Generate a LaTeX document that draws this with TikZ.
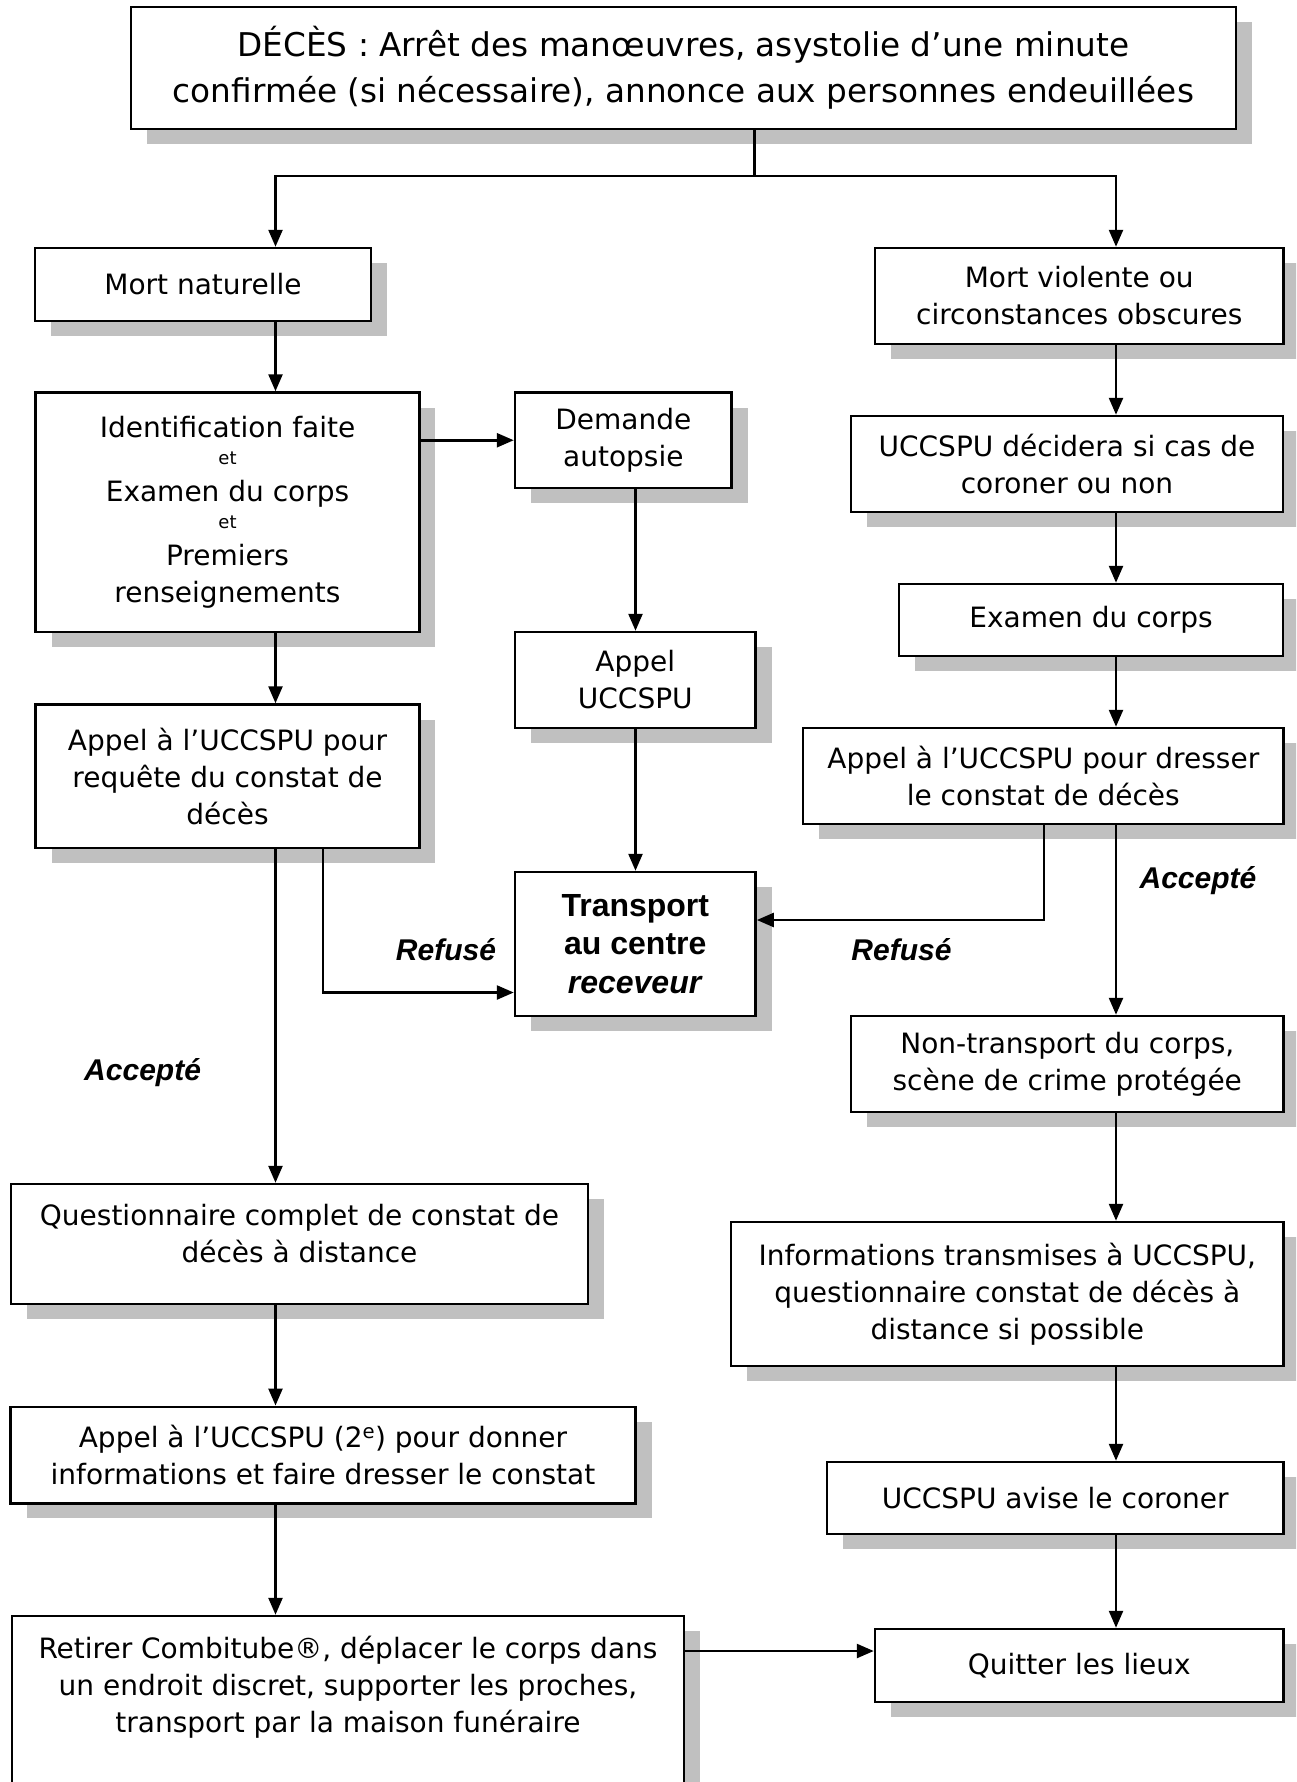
\documentclass[tikz,border=0pt]{standalone}
\usepackage{fontspec}
\setmainfont{DejaVu Sans}
\newfontfamily\labelfont{Liberation Sans}
\usepackage{tikz}
\usetikzlibrary{arrows.meta,calc,positioning,shadows}
\definecolor{shadowgray}{RGB}{192,192,192}

\begin{document}
\begin{tikzpicture}[
    x=1pt, y=-1pt,
    >={Triangle[length=17pt,width=14pt]},
    box/.style={draw=black,line width=2.5pt,fill=white,align=center,inner sep=0pt,
        font=\fontsize{28}{37}\selectfont,
        drop shadow={shadow xshift=16pt,shadow yshift=-15pt,fill=shadowgray,opacity=1}},
    link/.style={line width=2.5pt,->},
    verdict/.style={font=\labelfont\bfseries\itshape\fontsize{30}{36}\selectfont,
        inner sep=0pt,anchor=base}
]

% page frame
\useasboundingbox (0,0) rectangle (1296,1782);
\clip (0,0) rectangle (1296,1782);

% columns of the arrows
\coordinate (split) at (754.5,176);
\coordinate (colL) at (275.5,0);
\coordinate (colM) at (635.5,0);
\coordinate (colR) at (1116,0);

% ===== Title =====
\node[box,minimum width=1105pt,minimum height=122pt,
      font=\fontsize{32.7}{46}\selectfont] (deces) at (683.5,68)
    {DÉCÈS : Arrêt des manœuvres, asystolie d’une minute\\
     confirmée (si nécessaire), annonce aux personnes endeuillées};

% ===== Left branch =====
\node[box,minimum width=336pt,minimum height=73pt] (naturelle) at (203,284.5)
    {Mort naturelle};

\node[box,minimum width=383.7pt,minimum height=239.5pt] (ident) at (227.5,512.25)
    {Identification faite\\[-10pt]
     {\fontsize{18}{22}\selectfont et}\\
     Examen du corps\\[-10pt]
     {\fontsize{18}{22}\selectfont et}\\
     Premiers\\renseignements};

\node[box,minimum width=383.7pt,minimum height=143.5pt] (requete) at (227.5,776.25)
    {Appel à l’UCCSPU pour\\requête du constat de\\décès};

\node[box,minimum width=577pt,minimum height=120pt,text depth=22pt] (questionnaire) at (299.5,1244)
    {Questionnaire complet de constat de\\décès à distance};

\node[box,minimum width=625pt,minimum height=96.5pt] (appel2) at (323,1455)
    {Appel à l’UCCSPU (2\textsuperscript{e}) pour donner\\
     informations et faire dresser le constat};

\node[box,minimum width=672.4pt,minimum height=190pt,text depth=53pt] (retirer) at (348,1711)
    {Retirer Combitube®, déplacer le corps dans\\
     un endroit discret, supporter les proches,\\
     transport par la maison funéraire};

% ===== Middle =====
\node[box,minimum width=216.6pt,minimum height=95.5pt] (demande) at (623.3,440.25)
    {Demande\\autopsie};

\node[box,minimum width=240.6pt,minimum height=96pt] (appelu) at (635.3,680)
    {Appel\\UCCSPU};

\node[box,minimum width=240.6pt,minimum height=144pt,
      font=\labelfont\bfseries\fontsize{32}{38.5}\selectfont] (transport) at (635.3,944)
    {Transport\\au centre\\\textit{receveur}};

% ===== Right branch =====
\node[box,minimum width=408.5pt,minimum height=96pt] (violente) at (1079.25,296)
    {Mort violente ou\\circonstances obscures};

\node[box,minimum width=432pt,minimum height=96pt] (decidera) at (1067,464)
    {UCCSPU décidera si cas de\\coroner ou non};

\node[box,minimum width=384pt,minimum height=72pt] (examen) at (1091,620)
    {Examen du corps};

\node[box,minimum width=480.6pt,minimum height=96pt] (dresser) at (1043.3,776)
    {Appel à l’UCCSPU pour dresser\\le constat de décès};

\node[box,minimum width=432.6pt,minimum height=96pt] (nontransport) at (1067.3,1064)
    {Non-transport du corps,\\scène de crime protégée};

\node[box,minimum width=552.6pt,minimum height=144pt] (infos) at (1007.3,1294)
    {Informations transmises à UCCSPU,\\
     questionnaire constat de décès à\\
     distance si possible};

\node[box,minimum width=456.5pt,minimum height=72pt] (avise) at (1055.25,1498)
    {UCCSPU avise le coroner};

\node[box,minimum width=408.5pt,minimum height=73pt] (quitter) at (1079.25,1665.5)
    {Quitter les lieux};

% ===== Arrows =====
\draw[line width=2.5pt] (deces.south -| split) -- (split);
\draw[link] (split) -| (naturelle.north -| colL);
\draw[link] (split) -| (violente.north -| colR);

% natural death
\draw[link] (naturelle.south -| colL) -- (ident.north -| colL);
\draw[link] (ident.east |- demande.west) -- (demande.west);
\draw[link] (demande.south -| colM) -- (appelu.north -| colM);
\draw[link] (appelu.south -| colM) -- (transport.north -| colM);
\draw[link] (ident.south -| colL) -- (requete.north -| colL);

\coordinate (refusL) at (323,992.5);
\draw[link] (requete.south -| refusL) -- (refusL) -- (transport.west |- refusL);

\draw[link] (requete.south -| colL) -- (questionnaire.north -| colL);
\draw[link] (questionnaire.south -| colL) -- (appel2.north -| colL);
\draw[link] (appel2.south -| colL) -- (retirer.north -| colL);

\coordinate (exit) at (0,1651);
\draw[link] (retirer.east |- exit) -- (quitter.west |- exit);

% violent death
\draw[link] (violente.south -| colR) -- (decidera.north -| colR);
\draw[link] (decidera.south -| colR) -- (examen.north -| colR);
\draw[link] (examen.south -| colR) -- (dresser.north -| colR);
\draw[link] (dresser.south -| colR) -- (nontransport.north -| colR);
\draw[link] (nontransport.south -| colR) -- (infos.north -| colR);
\draw[link] (infos.south -| colR) -- (avise.north -| colR);
\draw[link] (avise.south -| colR) -- (quitter.north -| colR);

\coordinate (refusR) at (1044,920);
\draw[link] (dresser.south -| refusR) -- (refusR) -- (transport.east |- refusR);

% ===== Decisions =====
\node[verdict] (refuseL) at (446,960) {Refusé};
\node[verdict] (refuseR) at (901.5,960) {Refusé};
\node[verdict] (accepteL) at (142.6,1080.7) {Accepté};
\node[verdict] (accepteR) at (1198,888) {Accepté};

\end{tikzpicture}
\end{document}
